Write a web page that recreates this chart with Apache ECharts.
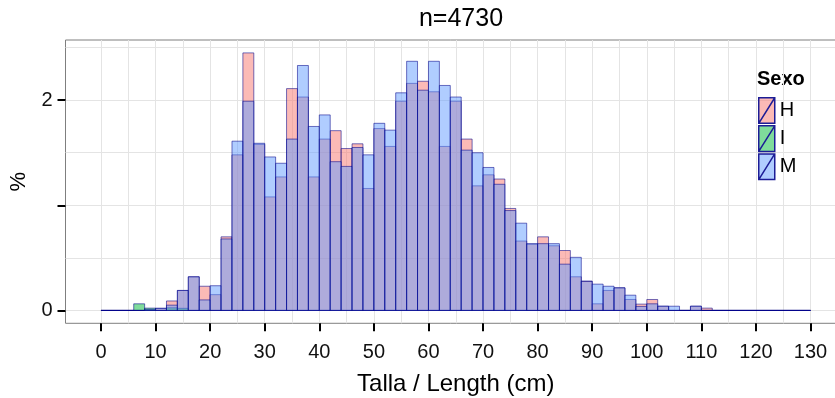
<!DOCTYPE html>
<html>
<head>
<meta charset="utf-8">
<script src="https://cdn.jsdelivr.net/npm/echarts@6/dist/echarts.min.js"></script>
<style>
  html, body { margin: 0; padding: 0; background: #ffffff; }
  #chart { width: 835px; height: 398px; }
</style>
</head>
<body>
<div id="chart"></div>
<script>
// ---- Data (percent of n=4730, 2 cm length bins) ----
const binWidth = 2;
const binStarts = Array.from({length: 65}, (_, k) => k * binWidth); // 0,2,...,128
const sexes = ['H', 'I', 'M'];
const pctH = [0,0,0,0,0, 0.02,0.09,0.19,0.32,0.23, 0.15,0.70,1.48,2.45,1.58, 1.08,1.27,2.11,2.03,1.27,
              1.63,1.71,1.54,1.585,1.16, 1.73,1.56,1.99,2.16,2.18, 2.08,1.56,1.99,1.63,1.185,
              1.29,1.25,0.97,0.66,0.63, 0.70,0.615,0.57,0.32,0.28, 0.063,0.19,0.215,0.104,0.06,
              0.104,0.04,0,0,0.04, 0.022,0,0,0,0, 0,0,0,0,0];
const pctI = [0,0,0,0.063,0.022, 0,0.025,0.02,0,0, 0,0,0,0,0, 0,0,0,0,0,
              0,0,0,0,0, 0,0,0,0,0, 0,0,0,0,0, 0,0,0,0,0, 0,0,0,0,0,
              0,0,0,0,0, 0,0,0,0,0, 0,0,0,0,0, 0,0,0,0,0];
const pctM = [0,0,0,0,0.01, 0.02,0.05,0.19,0.32,0.10, 0.235,0.68,1.61,1.99,1.59, 1.46,1.40,1.63,2.33,1.75,
              1.86,1.415,1.37,1.55,1.48, 1.78,1.715,2.07,2.37,2.095, 2.37,2.14,2.03,1.525,1.50,
              1.36,1.20,0.95,0.83,0.635, 0.635,0.635,0.44,0.505,0.275, 0.25,0.23,0.215,0.145,0.038,
              0.063,0.04,0.04,0,0.04, 0,0,0,0,0, 0,0,0,0,0];
const xTickValues = [0,10,20,30,40,50,60,70,80,90,100,110,120,130];
const xGridValues = [0,5,10,15,20,25,30,35,40,45,50,55,60,65,70,75,80,85,90,95,100,105,110,115,120,125,130,135];
const yTickValues = [0,1,2];
const yLabelValues = [0,2];
const yGridValues = [0,0.5,1,1.5,2,2.5];
const titleText = 'n=4730';
const xName = 'Talla / Length (cm)';
const yName = '%';
const legendTitle = 'Sexo';

// ---- Styling ----
const fills = {
  H: 'rgba(248,118,109,0.5)',
  I: 'rgba(0,186,56,0.5)',
  M: 'rgba(97,156,255,0.5)'
};
const edge = 'rgba(0,0,139,0.55)';
const valuesBySex = {H: pctH, I: pctI, M: pctM};

function makeRender(fill) {
  return function (params, api) {
    const x0 = api.value(0);
    const v = api.value(1);
    const p0 = api.coord([x0, 0]);
    const p1 = api.coord([x0 + binWidth, v]);
    return {
      type: 'rect',
      shape: {x: p0[0], y: p1[1], width: p1[0] - p0[0], height: p0[1] - p1[1]},
      style: {fill: fill, stroke: edge, lineWidth: 1}
    };
  };
}

const series = sexes.map(s => ({
  name: s,
  type: 'custom',
  xAxisIndex: 0,
  yAxisIndex: 0,
  renderItem: makeRender(fills[s]),
  encode: {x: 0, y: 1},
  itemStyle: {color: fills[s], borderColor: '#1c1c96', borderWidth: 1.5},
  data: binStarts.map((b, i) => [b, valuesBySex[s][i]])
}));

const font = 'Liberation Sans, Arial, sans-serif';
const keyIcon = 'path://M0,0L10,0L10,16L0,16Z M0,16L10,0';

const option = {
  backgroundColor: '#ffffff',
  animation: false,
  title: {
    text: titleText,
    left: 456, top: 2,
    textAlign: 'center',
    textStyle: {fontFamily: font, fontSize: 25, fontWeight: 'normal', color: '#000'}
  },
  grid: {
    left: 65.5, right: -11, top: 40, bottom: 74.7,
    containLabel: false, outerBoundsMode: 'none',
    show: true, borderColor: '#7f7f7f', borderWidth: 1, backgroundColor: '#ffffff'
  },
  legend: {
    orient: 'vertical',
    left: 758, top: 97, padding: 0,
    itemWidth: 16, itemHeight: 26, itemGap: 1,
    data: sexes.map(s => ({name: s, icon: keyIcon})),
    itemStyle: {borderColor: '#1c1c96', borderWidth: 1.5},
    textStyle: {fontFamily: font, fontSize: 20, color: '#000'},
    selectedMode: false
  },
  graphic: [{
    type: 'text', left: 757, top: 69,
    style: {text: legendTitle, font: 'bold 20px ' + font, fill: '#000'}
  }],
  xAxis: [{
    type: 'value', min: -6.5, max: 136.5, position: 'bottom',
    axisLine: {show: false, onZero: false},
    axisTick: {show: false, customValues: xGridValues},
    axisLabel: {show: false},
    splitLine: {show: true, lineStyle: {color: '#e4e4e4', width: 1}}
  }, {
    type: 'value', min: -6.5, max: 136.5, position: 'bottom',
    axisLine: {show: false, onZero: false},
    axisTick: {show: true, customValues: xTickValues, length: 8, lineStyle: {color: '#000', width: 2}},
    axisLabel: {show: true, customValues: xTickValues, margin: 19, fontFamily: font, fontSize: 20, color: '#111'},
    splitLine: {show: false},
    name: xName, nameLocation: 'middle', nameGap: 49,
    nameTextStyle: {fontFamily: font, fontSize: 24, color: '#000'}
  }],
  yAxis: [{
    type: 'value', min: -0.1225, max: 2.5725, position: 'left',
    axisLine: {show: false, onZero: false},
    axisTick: {show: false, customValues: yGridValues},
    axisLabel: {show: false},
    splitLine: {show: true, lineStyle: {color: '#e4e4e4', width: 1}}
  }, {
    type: 'value', min: -0.1225, max: 2.5725, position: 'left',
    axisLine: {show: false, onZero: false},
    axisTick: {show: true, customValues: yTickValues, length: 8, lineStyle: {color: '#000', width: 2}},
    axisLabel: {show: true, customValues: yLabelValues, margin: 13, fontFamily: font, fontSize: 20, color: '#111'},
    splitLine: {show: false},
    name: yName, nameLocation: 'middle', nameGap: 36, nameRotate: 90,
    nameTextStyle: {fontFamily: font, fontSize: 22, color: '#000'}
  }],
  series: series
};

const chart = echarts.init(document.getElementById('chart'), null, {renderer: 'canvas'});
chart.setOption(option);
</script>
</body>
</html>
